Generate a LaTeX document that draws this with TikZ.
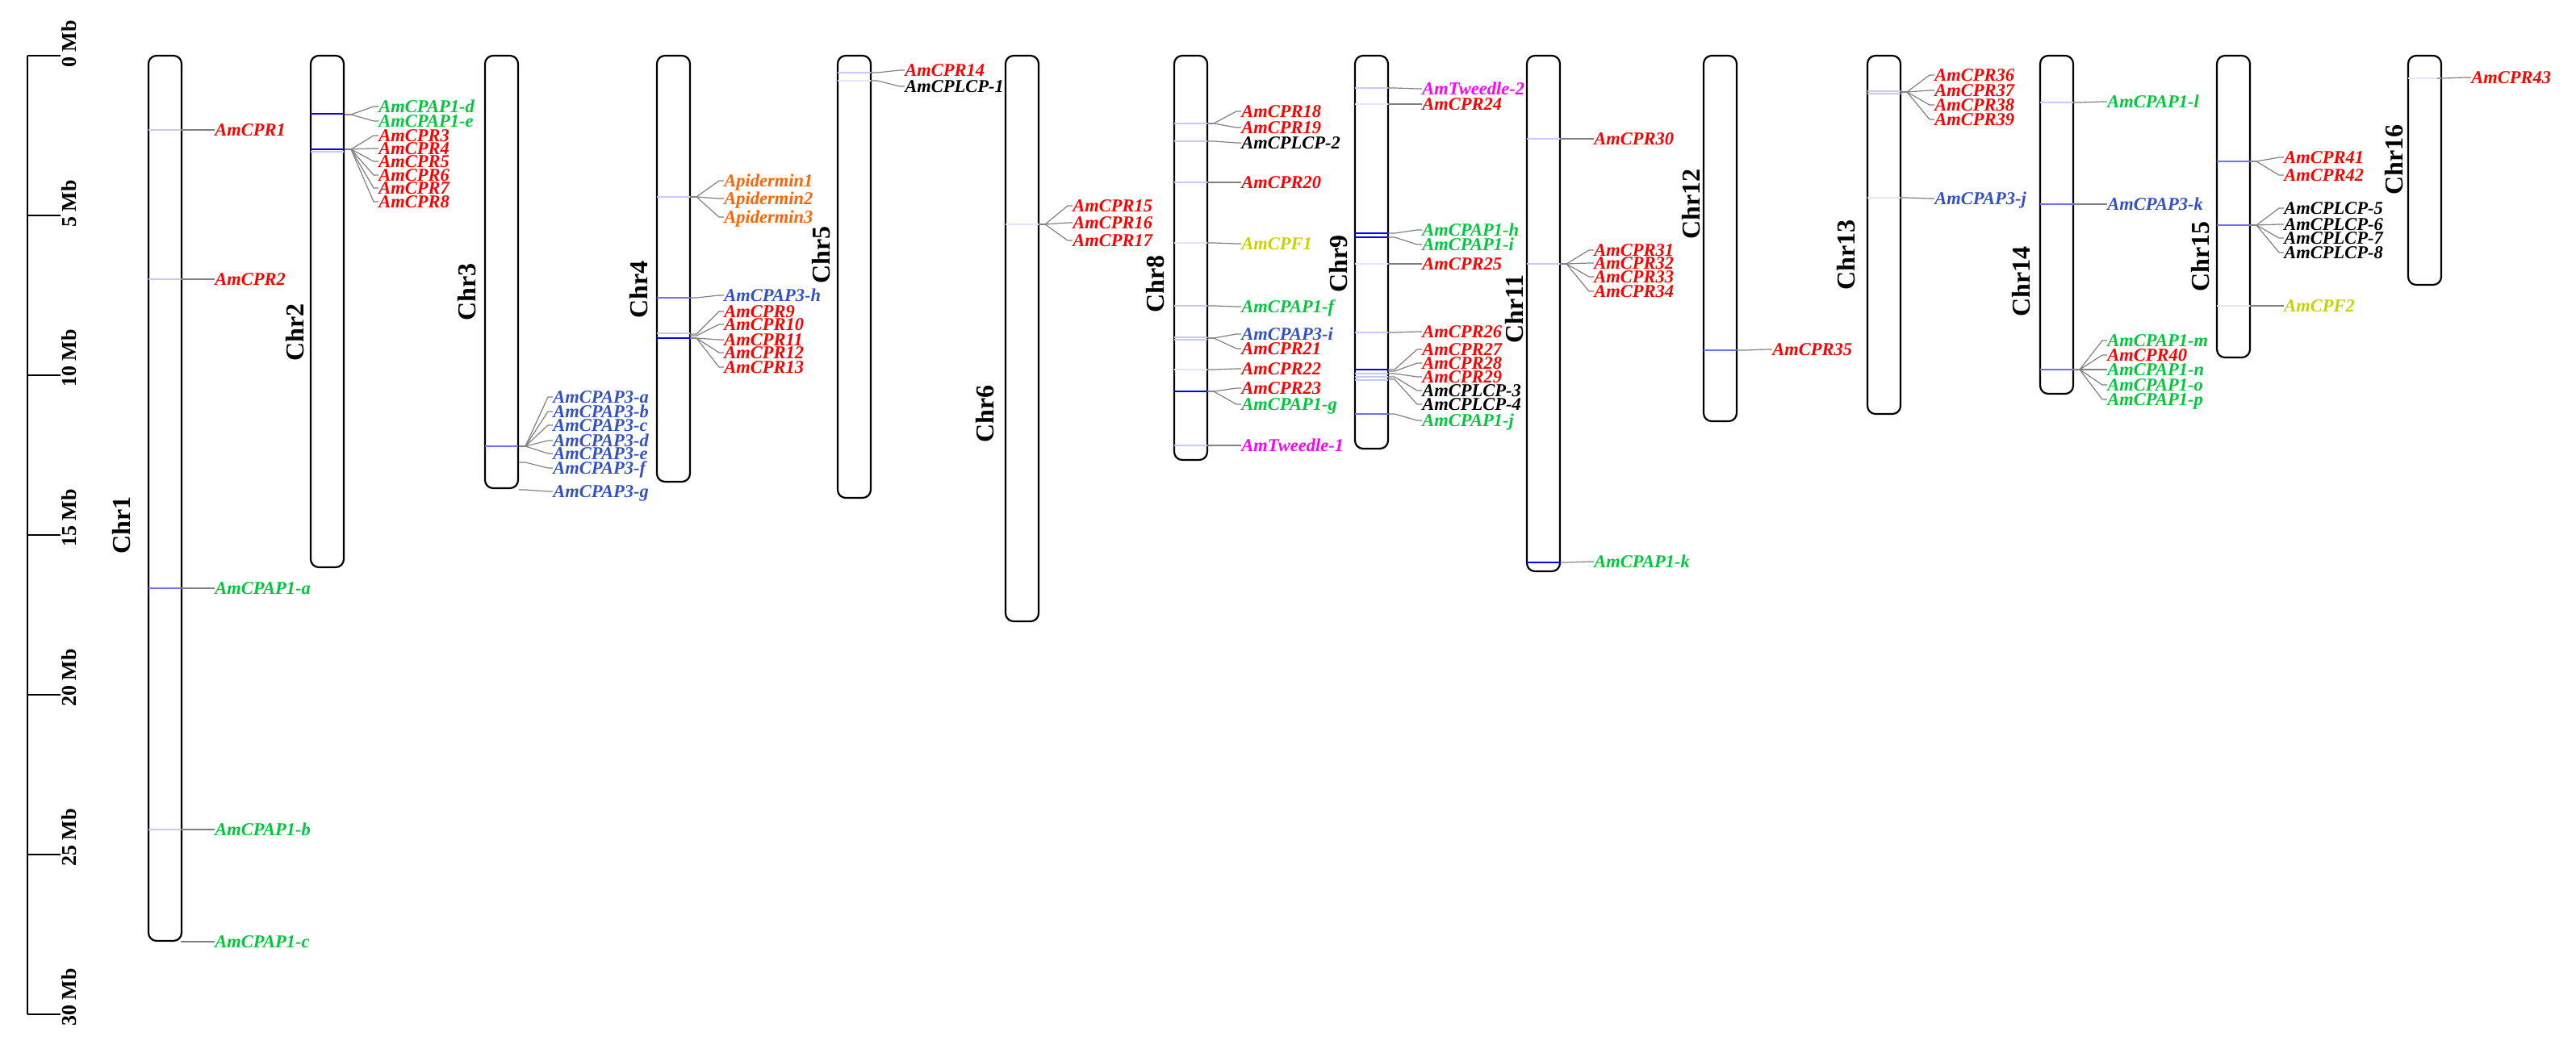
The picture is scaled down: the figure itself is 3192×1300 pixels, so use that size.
\documentclass[tikz,border=0pt]{standalone}
\usepackage{fontspec}
\setmainfont{Liberation Serif}
\definecolor{cRed}{RGB}{255,0,0}
\definecolor{cGreen}{RGB}{0,200,60}
\definecolor{cBlue}{RGB}{50,80,200}
\definecolor{cYel}{RGB}{200,210,0}
\definecolor{cMag}{RGB}{255,0,255}
\definecolor{cOra}{RGB}{255,100,0}
\definecolor{cConn}{RGB}{128,128,128}
\definecolor{mStrong}{RGB}{0,0,255}
\definecolor{mMed}{RGB}{110,110,255}
\definecolor{mLight}{RGB}{200,200,255}
\definecolor{mFaint}{RGB}{228,228,255}
\tikzset{
  chrbar/.style={draw=black, line width=1.1pt, rounded corners=5pt, fill=white},
  conn/.style={draw=cConn, line width=0.6pt},
  mkS/.style={draw=mStrong, line width=1.3pt},
  mkM/.style={draw=mMed, line width=0.6pt},
  mkL/.style={draw=mLight, line width=0.6pt},
  mkF/.style={draw=mFaint, line width=0.6pt},
  axisline/.style={draw=black, line width=0.75pt},
  glab/.style={font=\fontsize{11.25}{12}\selectfont\bfseries\itshape, inner sep=0pt, anchor=west, text height=7.2pt, text depth=0pt},
  chrlab/.style={font=\fontsize{16}{16}\selectfont\bfseries, rotate=90, inner sep=0pt, text height=10.5pt, text depth=0pt},
  axlab/.style={font=\fontsize{13}{13}\selectfont\bfseries, rotate=90, inner sep=0pt, anchor=west, text height=8.5pt, text depth=0pt},
}
% gene label: #1 chromosome right x, #2 marker y, #3 label y, #4 colour, #5 name, #6 text
\newcommand\gn[6]{%
  \node[glab,text=#4] (#5) at ({#1+42},#3) {#6};
  \coordinate (#5m) at (#1,#2);
  \draw[conn] (#5m) -- ++(8,0) -- ([xshift=-3pt]#5.west) -- (#5.west);
}
% marker across a chromosome: #1 left, #2 right, #3 y, #4 style
\newcommand\mk[4]{\draw[#4] (#1,#3) -- (#2,#3);}
% chromosome: #1 name, #2 left, #3 bottom, #4 label x, #5 label y
\newcommand\chrom[5]{%
  \draw[chrbar] (#2,69) rectangle ({#2+41},#3);
  \node[chrlab] (lab#1) at (#4,#5) {#1};
}
\begin{document}
\begin{tikzpicture}[x=0.5pt,y=-0.5pt]
\useasboundingbox (0,0) rectangle (3192,1300);
% scale axis
\coordinate (axTop) at (34,69);
\coordinate (axBot) at (34,1257);
\draw[axisline] (axTop) -- (axBot);
\foreach \i/\v in {0/0,1/5,2/10,3/15,4/20,5/25,6/30}{
  \draw[axisline] (34,{69+198*\i}) -- (75,{69+198*\i});
  \node[axlab] (ax\i) at (86,{69+198*\i+15}) {\v\ Mb};
}
% chromosomes
\chrom{Chr1}{184}{1166}{151}{651}
\chrom{Chr2}{385}{703}{366}{412}
\chrom{Chr3}{601}{605}{579}{362}
\chrom{Chr4}{814}{597}{792}{359}
\chrom{Chr5}{1038}{617}{1018}{316}
\chrom{Chr6}{1246}{770}{1221}{513}
\chrom{Chr8}{1455}{570}{1432}{352}
\chrom{Chr9}{1679}{556}{1659}{327}
\chrom{Chr11}{1892}{708}{1877}{383}
\chrom{Chr12}{2111}{522}{2096}{253}
\chrom{Chr13}{2314}{513}{2288}{316}
\chrom{Chr14}{2528}{488}{2505}{349}
\chrom{Chr15}{2747}{443}{2727}{318}
\chrom{Chr16}{2984}{353}{2967}{198}
% markers
\mk{184}{225}{161}{mkL}\mk{184}{225}{346}{mkL}\mk{184}{225}{729}{mkM}\mk{184}{225}{1028}{mkL}
\mk{385}{426}{141}{mkS}\mk{385}{426}{185}{mkS}\mk{385}{426}{188}{mkL}
\mk{601}{642}{553}{mkM}
\mk{814}{855}{244}{mkL}\mk{814}{855}{369}{mkM}\mk{814}{855}{413}{mkL}\mk{814}{855}{419}{mkS}
\mk{1038}{1079}{90}{mkL}\mk{1038}{1079}{100}{mkF}
\mk{1246}{1287}{278}{mkF}
\mk{1455}{1496}{153}{mkL}\mk{1455}{1496}{175}{mkL}\mk{1455}{1496}{226}{mkL}\mk{1455}{1496}{301}{mkF}
\mk{1455}{1496}{379}{mkL}\mk{1455}{1496}{418}{mkL}\mk{1455}{1496}{421}{mkL}\mk{1455}{1496}{458}{mkF}
\mk{1455}{1496}{485}{mkS}\mk{1455}{1496}{552}{mkL}
\mk{1679}{1720}{109}{mkL}\mk{1679}{1720}{129}{mkF}\mk{1679}{1720}{289}{mkS}\mk{1679}{1720}{294}{mkS}
\mk{1679}{1720}{327}{mkF}\mk{1679}{1720}{412}{mkL}\mk{1679}{1720}{458}{mkS}\mk{1679}{1720}{463}{mkL}
\mk{1679}{1720}{467}{mkL}\mk{1679}{1720}{471}{mkL}\mk{1679}{1720}{513}{mkM}
\mk{1892}{1933}{172}{mkL}\mk{1892}{1933}{327}{mkL}\mk{1892}{1933}{697}{mkS}
\mk{2111}{2152}{434}{mkM}
\mk{2314}{2355}{113}{mkL}\mk{2314}{2355}{116}{mkL}\mk{2314}{2355}{245}{mkF}
\mk{2528}{2569}{127}{mkL}\mk{2528}{2569}{253}{mkM}\mk{2528}{2569}{458}{mkM}
\mk{2747}{2788}{200}{mkM}\mk{2747}{2788}{279}{mkM}\mk{2747}{2788}{379}{mkF}
\mk{2984}{3025}{97}{mkF}
% Chr1
\gn{224}{161}{161}{cRed}{cpr1}{AmCPR1}
\gn{224}{346}{346}{cRed}{cpr2}{AmCPR2}
\gn{224}{729}{729}{cGreen}{cpapIa}{AmCPAP1-a}
\gn{224}{1028}{1028}{cGreen}{cpapIb}{AmCPAP1-b}
\gn{224}{1167}{1167}{cGreen}{cpapIc}{AmCPAP1-c}
% Chr2
\gn{427}{142}{132}{cGreen}{cpapId}{AmCPAP1-d}
\gn{427}{142}{150}{cGreen}{cpapIe}{AmCPAP1-e}
\gn{427}{185}{168}{cRed}{cpr3}{AmCPR3}
\gn{427}{185}{184}{cRed}{cpr4}{AmCPR4}
\gn{427}{185}{200}{cRed}{cpr5}{AmCPR5}
\gn{427}{185}{217}{cRed}{cpr6}{AmCPR6}
\gn{427}{185}{233}{cRed}{cpr7}{AmCPR7}
\gn{427}{185}{250}{cRed}{cpr8}{AmCPR8}
% Chr3
\gn{643}{553}{492}{cBlue}{cpapIIIa}{AmCPAP3-a}
\gn{643}{553}{510}{cBlue}{cpapIIIb}{AmCPAP3-b}
\gn{643}{553}{527}{cBlue}{cpapIIIc}{AmCPAP3-c}
\gn{643}{553}{546}{cBlue}{cpapIIId}{AmCPAP3-d}
\gn{643}{553}{562}{cBlue}{cpapIIIe}{AmCPAP3-e}
\gn{643}{573}{580}{cBlue}{cpapIIIf}{AmCPAP3-f}
\gn{643}{607}{609}{cBlue}{cpapIIIg}{AmCPAP3-g}
% Chr4
\gn{855}{244}{224}{cOra}{apiI}{Apidermin1}
\gn{855}{244}{246}{cOra}{apiII}{Apidermin2}
\gn{855}{244}{269}{cOra}{apiIII}{Apidermin3}
\gn{855}{369}{366}{cBlue}{cpapIIIh}{AmCPAP3-h}
\gn{855}{414}{386}{cRed}{cpr9}{AmCPR9}
\gn{855}{416}{402}{cRed}{cpr10}{AmCPR10}
\gn{855}{419}{421}{cRed}{cpr11}{AmCPR11}
\gn{855}{419}{437}{cRed}{cpr12}{AmCPR12}
\gn{855}{419}{455}{cRed}{cpr13}{AmCPR13}
% Chr5
\gn{1079}{90}{87}{cRed}{cpr14}{AmCPR14}
\gn{1079}{100}{107}{black}{cplcpI}{AmCPLCP-1}
% Chr6
\gn{1287}{278}{255}{cRed}{cpr15}{AmCPR15}
\gn{1287}{278}{276}{cRed}{cpr16}{AmCPR16}
\gn{1287}{278}{298}{cRed}{cpr17}{AmCPR17}
% Chr8
\gn{1496}{153}{138}{cRed}{cpr18}{AmCPR18}
\gn{1496}{153}{158}{cRed}{cpr19}{AmCPR19}
\gn{1496}{175}{177}{black}{cplcpII}{AmCPLCP-2}
\gn{1496}{226}{226}{cRed}{cpr20}{AmCPR20}
\gn{1496}{301}{302}{cYel}{cpfI}{AmCPF1}
\gn{1496}{379}{380}{cGreen}{cpapIf}{AmCPAP1-f}
\gn{1496}{419}{414}{cBlue}{cpapIIIi}{AmCPAP3-i}
\gn{1496}{419}{432}{cRed}{cpr21}{AmCPR21}
\gn{1496}{458}{457}{cRed}{cpr22}{AmCPR22}
\gn{1496}{485}{481}{cRed}{cpr23}{AmCPR23}
\gn{1496}{485}{501}{cGreen}{cpapIg}{AmCPAP1-g}
\gn{1496}{552}{552}{cMag}{twI}{AmTweedle-1}
% Chr9
\gn{1720}{109}{110}{cMag}{twII}{AmTweedle-2}
\gn{1720}{129}{129}{cRed}{cpr24}{AmCPR24}
\gn{1720}{289}{285}{cGreen}{cpapIh}{AmCPAP1-h}
\gn{1720}{294}{303}{cGreen}{cpapIi}{AmCPAP1-i}
\gn{1720}{327}{327}{cRed}{cpr25}{AmCPR25}
\gn{1720}{412}{411}{cRed}{cpr26}{AmCPR26}
\gn{1720}{458}{433}{cRed}{cpr27}{AmCPR27}
\gn{1720}{460}{450}{cRed}{cpr28}{AmCPR28}
\gn{1720}{463}{467}{cRed}{cpr29}{AmCPR29}
\gn{1720}{467}{484}{black}{cplcpIII}{AmCPLCP-3}
\gn{1720}{470}{501}{black}{cplcpIV}{AmCPLCP-4}
\gn{1720}{513}{521}{cGreen}{cpapIj}{AmCPAP1-j}
% Chr11
\gn{1933}{172}{172}{cRed}{cpr30}{AmCPR30}
\gn{1933}{327}{310}{cRed}{cpr31}{AmCPR31}
\gn{1933}{327}{326}{cRed}{cpr32}{AmCPR32}
\gn{1933}{327}{343}{cRed}{cpr33}{AmCPR33}
\gn{1933}{327}{361}{cRed}{cpr34}{AmCPR34}
\gn{1933}{697}{696}{cGreen}{cpapIk}{AmCPAP1-k}
% Chr12
\gn{2154}{434}{433}{cRed}{cpr35}{AmCPR35}
% Chr13
\gn{2355}{114}{93}{cRed}{cpr36}{AmCPR36}
\gn{2355}{114}{112}{cRed}{cpr37}{AmCPR37}
\gn{2355}{114}{130}{cRed}{cpr38}{AmCPR38}
\gn{2355}{114}{148}{cRed}{cpr39}{AmCPR39}
\gn{2355}{245}{246}{cBlue}{cpapIIIj}{AmCPAP3-j}
% Chr14
\gn{2569}{127}{126}{cGreen}{cpapIl}{AmCPAP1-l}
\gn{2569}{253}{253}{cBlue}{cpapIIIk}{AmCPAP3-k}
\gn{2569}{458}{422}{cGreen}{cpapIm}{AmCPAP1-m}
\gn{2569}{458}{440}{cRed}{cpr40}{AmCPR40}
\gn{2569}{458}{458}{cGreen}{cpapIn}{AmCPAP1-n}
\gn{2569}{458}{477}{cGreen}{cpapIo}{AmCPAP1-o}
\gn{2569}{458}{495}{cGreen}{cpapIp}{AmCPAP1-p}
% Chr15
\gn{2788}{200}{195}{cRed}{cpr41}{AmCPR41}
\gn{2788}{200}{217}{cRed}{cpr42}{AmCPR42}
\gn{2788}{279}{258}{black}{cplcpV}{AmCPLCP-5}
\gn{2788}{279}{278}{black}{cplcpVI}{AmCPLCP-6}
\gn{2788}{279}{295}{black}{cplcpVII}{AmCPLCP-7}
\gn{2788}{279}{313}{black}{cplcpVIII}{AmCPLCP-8}
\gn{2788}{379}{379}{cYel}{cpfII}{AmCPF2}
% Chr16
\gn{3020}{97}{96}{cRed}{cpr43}{AmCPR43}
\end{tikzpicture}
\end{document}
